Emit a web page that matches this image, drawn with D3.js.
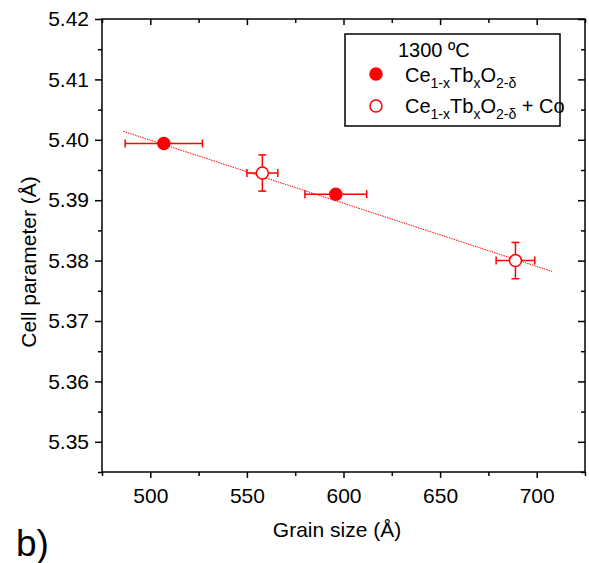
<!doctype html>
<html lang="">
<head>
<meta charset="utf-8">
<title>Cell parameter vs grain size</title>
<style>
    body { margin: 0; background: #fff; }
    svg text { font-family: "Liberation Sans", Arial, Helvetica, sans-serif; fill: #000; }
    .axis path { display: none; }
    .axis line { stroke: #000; stroke-width: 1.5px; }
    .axis text { font-size: 21px; font-family: "Liberation Sans", Arial, sans-serif; }
    .frame { fill: none; stroke: #000; stroke-width: 1.5px; }
    .fit { fill: none; stroke: #ff0000; stroke-width: 1px; stroke-dasharray: 1.5 1; }
    .err { stroke: #ff0000; stroke-width: 1.5px; }
</style>
</head>
<body>
<svg id="plot" width="589" height="563"></svg>

<script src="https://cdn.jsdelivr.net/npm/d3@7"></script>
<script>
// Ce(1-x)Tb(x)O(2-d), filled symbols
const grainFilled = [507, 596];
const cellFilled = [5.3994, 5.3910];
const grainErrFilled = [20, 16];
const cellErrFilled = [0, 0];

// Ce(1-x)Tb(x)O(2-d) + Co, open symbols
const grainOpen = [558, 689];
const cellOpen = [5.3945, 5.3800];
const grainErrOpen = [8, 10];
const cellErrOpen = [0.003, 0.003];

// linear fit
const fitX = [486, 708];
const fitY = [5.4014, 5.3782];

const xMajor = [500, 550, 600, 650, 700];
const xMinor = [475, 525, 575, 625, 675, 725];
const yMajor = [5.35, 5.36, 5.37, 5.38, 5.39, 5.40, 5.41, 5.42];
const yMinor = [5.345, 5.355, 5.365, 5.375, 5.385, 5.395, 5.405, 5.415];

let svg = d3.select("svg"),
    margin = {top: 19, right: 4, bottom: 91, left: 102},
    width = +svg.attr("width") - margin.left - margin.right,
    height = +svg.attr("height") - margin.top - margin.bottom,
    g = svg.append("g").attr("transform", "translate(" + margin.left + "," + margin.top + ")");

let x = d3.scaleLinear().domain([475, 725]).range([0, width]);
let y = d3.scaleLinear().domain([5.345, 5.42]).range([height, 0]);

// axes: outward ticks bottom/left, inward ticks top/right
function addAxis(axisFn, scale, values, size, fmt, transform, pad) {
    let a = g.append("g").attr("class", "axis")
        .call(axisFn(scale).tickValues(values).tickSize(size).tickSizeOuter(0)
            .tickPadding(pad).tickFormat(fmt));
    if (transform) a.attr("transform", transform);
    return a;
}
addAxis(d3.axisBottom, x, xMajor, 6, d3.format("d"), "translate(0," + height + ")", 10);
addAxis(d3.axisBottom, x, xMinor, 4, "", "translate(0," + height + ")", 0);
addAxis(d3.axisLeft, y, yMajor, 7, d3.format(".2f"), null, 6);
addAxis(d3.axisLeft, y, yMinor, 4, "", null, 0);
addAxis(d3.axisTop, x, xMajor, -6, "", null, 0);
addAxis(d3.axisTop, x, xMinor, -4, "", null, 0);
addAxis(d3.axisRight, y, yMajor, -7, "", "translate(" + width + ",0)", 0);
addAxis(d3.axisRight, y, yMinor, -4, "", "translate(" + width + ",0)", 0);

g.append("rect").attr("class", "frame")
    .attr("x", 0).attr("y", 0).attr("width", width).attr("height", height);

// fit line
g.append("path")
    .datum(d3.zip(fitX, fitY))
    .attr("class", "fit")
    .attr("d", d3.line().x(d => x(d[0])).y(d => y(d[1])));

function drawSeries(gx, cy, ex, ey, filled) {
    let data = gx.map((v, i) => ({gx: v, cy: cy[i], ex: ex[i], ey: ey[i]}));
    let s = g.append("g");
    let cap = 4;
    data.forEach(d => {
        let px = x(d.gx), py = y(d.cy);
        if (d.ex > 0) {
            s.append("line").attr("class", "err")
                .attr("x1", x(d.gx - d.ex)).attr("x2", x(d.gx + d.ex)).attr("y1", py).attr("y2", py);
            [d.gx - d.ex, d.gx + d.ex].forEach(v => {
                s.append("line").attr("class", "err")
                    .attr("x1", x(v)).attr("x2", x(v)).attr("y1", py - cap).attr("y2", py + cap);
            });
        }
        if (d.ey > 0) {
            s.append("line").attr("class", "err")
                .attr("x1", px).attr("x2", px).attr("y1", y(d.cy - d.ey)).attr("y2", y(d.cy + d.ey));
            [d.cy - d.ey, d.cy + d.ey].forEach(v => {
                s.append("line").attr("class", "err")
                    .attr("x1", px - cap).attr("x2", px + cap).attr("y1", y(v)).attr("y2", y(v));
            });
        }
    });
    s.selectAll("circle").data(data).enter().append("circle")
        .attr("cx", d => x(d.gx)).attr("cy", d => y(d.cy)).attr("r", 6)
        .attr("fill", filled ? "#ff0000" : "#fff")
        .attr("stroke", "#ff0000").attr("stroke-width", 1.5);
}
drawSeries(grainFilled, cellFilled, grainErrFilled, cellErrFilled, true);
drawSeries(grainOpen, cellOpen, grainErrOpen, cellErrOpen, false);

// axis titles
svg.append("text")
    .attr("transform", "translate(36,262) rotate(-90)")
    .attr("text-anchor", "middle").style("font-size", "21px")
    .text("Cell parameter (Å)");
svg.append("text")
    .attr("x", 337).attr("y", 537)
    .attr("text-anchor", "middle").style("font-size", "21px")
    .text("Grain size (Å)");
svg.append("text")
    .attr("x", 16).attr("y", 556).style("font-size", "37px")
    .text("b)");

// legend
let lg = svg.append("g");
lg.append("rect").attr("x", 345).attr("y", 34).attr("width", 215).attr("height", 92)
    .attr("fill", "#fff").attr("stroke", "#000").attr("stroke-width", 1.5);
lg.append("text").attr("x", 398).attr("y", 57).style("font-size", "20px").text("1300 ºC");

function formula(t, yy, extra) {
    let sub = s => t.append("tspan").attr("dy", 6).style("font-size", "14px").text(s);
    let main = s => t.append("tspan").attr("dy", -6).style("font-size", "20px").text(s);
    t.attr("y", yy);
    t.append("tspan").style("font-size", "20px").text("Ce");
    sub("1-x"); main("Tb"); sub("x"); main("O"); sub("2-δ");
    if (extra) main(extra);
}
[[true, 82, 74, null], [false, 113, 106, " + Co"]].forEach(([filled, ty, cy, extra]) => {
    lg.append("circle").attr("cx", 376).attr("cy", cy).attr("r", 6)
        .attr("fill", filled ? "#ff0000" : "#fff")
        .attr("stroke", "#ff0000").attr("stroke-width", 1.5);
    formula(lg.append("text").attr("x", 405), ty, extra);
});
</script>
</body>
</html>
